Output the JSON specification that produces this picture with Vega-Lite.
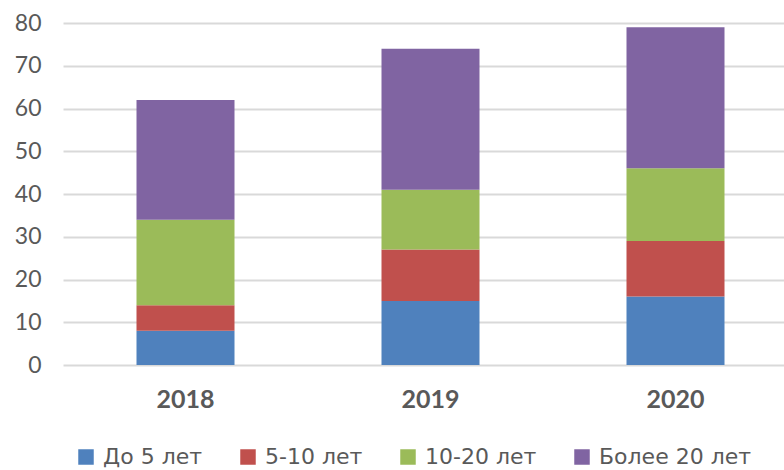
{
  "$schema": "https://vega.github.io/schema/vega-lite/v6.json",
  "width": 735,
  "height": 342,
  "autosize": {"type": "none"},
  "padding": {"left": 63, "top": 23, "right": 0, "bottom": 105},
  "config": {
    "view": {"stroke": null},
    "font": "Lato",
    "axis": {"labelColor": "#595959", "labelFont": "Lato"},
    "legend": {"labelColor": "#595959", "labelFont": "DejaVu Sans"}
  },
  "data": {
    "values": [
      {"year": "2018", "group": "До 5 лет", "value": 8},
      {"year": "2018", "group": "5-10 лет", "value": 6},
      {"year": "2018", "group": "10-20 лет", "value": 20},
      {"year": "2018", "group": "Более 20 лет", "value": 28},
      {"year": "2019", "group": "До 5 лет", "value": 15},
      {"year": "2019", "group": "5-10 лет", "value": 12},
      {"year": "2019", "group": "10-20 лет", "value": 14},
      {"year": "2019", "group": "Более 20 лет", "value": 33},
      {"year": "2020", "group": "До 5 лет", "value": 16},
      {"year": "2020", "group": "5-10 лет", "value": 13},
      {"year": "2020", "group": "10-20 лет", "value": 17},
      {"year": "2020", "group": "Более 20 лет", "value": 33}
    ]
  },
  "transform": [
    {"calculate": "indexof(['До 5 лет', '5-10 лет', '10-20 лет', 'Более 20 лет'], datum.group)", "as": "stackOrder"}
  ],
  "mark": {"type": "bar"},
  "encoding": {
    "x": {
      "field": "year", "type": "nominal",
      "scale": {"paddingInner": 0.6, "paddingOuter": 0.3},
      "axis": {"title": null, "labelAngle": 0, "domain": false, "ticks": false, "labelFontSize": 25, "labelFontWeight": "bold", "labelPadding": 22}
    },
    "y": {
      "field": "value", "type": "quantitative", "stack": "zero",
      "scale": {"domain": [0, 80], "nice": false},
      "axis": {"title": null, "values": [0,10,20,30,40,50,60,70,80], "domain": false, "ticks": false, "labelFontSize": 23, "labelPadding": 22, "gridColor": "#d9d9d9", "gridWidth": 2}
    },
    "color": {
      "field": "group", "type": "nominal",
      "sort": ["До 5 лет", "5-10 лет", "10-20 лет", "Более 20 лет"],
      "scale": {"domain": ["До 5 лет", "5-10 лет", "10-20 лет", "Более 20 лет"], "range": ["#4F81BD", "#C0504D", "#9BBB59", "#8064A2"]},
      "legend": {"title": null, "orient": "none", "direction": "horizontal", "legendX": 12, "legendY": 423, "symbolType": "square", "symbolSize": 240, "symbolStrokeWidth": 0, "labelFontSize": 22, "columnPadding": 34, "labelOffset": 6}
    },
    "order": {"field": "stackOrder", "type": "quantitative", "sort": "ascending"}
  }
}
